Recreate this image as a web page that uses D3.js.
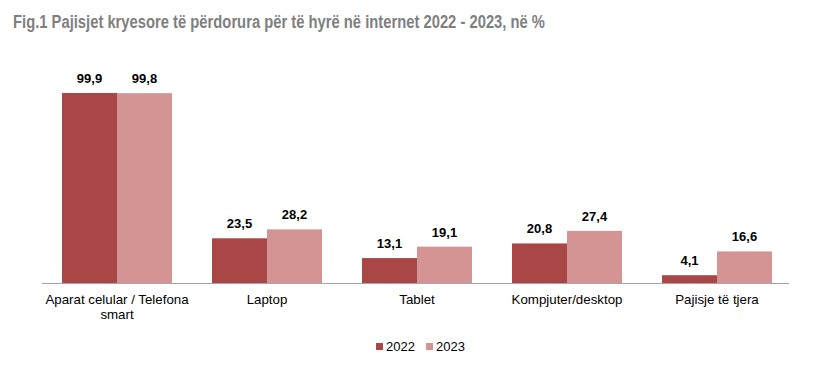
<!DOCTYPE html>
<html>
<head>
<meta charset="utf-8">
<script src="https://cdn.jsdelivr.net/npm/d3@7"></script>
<style>
  body { margin: 0; background: #fff; }
  svg { display: block; font-family: "Liberation Sans", Arial, sans-serif; }
</style>
</head>
<body>
<div id="chart"></div>
<script>
const categories = ["Aparat celular / Telefona smart", "Laptop", "Tablet", "Kompjuter/desktop", "Pajisje të tjera"];
const categoryLines = [["Aparat celular / Telefona", "smart"], ["Laptop"], ["Tablet"], ["Kompjuter/desktop"], ["Pajisje të tjera"]];
const years = ["2022", "2023"];
const values2022 = [99.9, 23.5, 13.1, 20.8, 4.1];
const values2023 = [99.8, 28.2, 19.1, 27.4, 16.6];
const title = "Fig.1 Pajisjet kryesore të përdorura për të hyrë në internet 2022 - 2023, në %";

const W = 816, H = 379;
const baseY = 283;
const colors = { "2022": "#a94646", "2023": "#d49494" };

const svg = d3.select("#chart").append("svg")
    .attr("width", W)
    .attr("height", H);

const x = d3.scaleBand()
    .domain(categories)
    .range([42, 792])
    .paddingInner(40 / 150)
    .paddingOuter(20 / 150);

const xs = d3.scaleBand()
    .domain(years)
    .range([0, x.bandwidth()]);

const y = d3.scaleLinear()
    .domain([0, 100])
    .range([baseY, baseY - 190.2]);

// Title
svg.append("text")
    .attr("x", 13)
    .attr("y", 28)
    .attr("textLength", 532)
    .attr("lengthAdjust", "spacingAndGlyphs")
    .style("font-size", "18px")
    .style("font-weight", "bold")
    .style("fill", "#7f7f7f")
    .text(title);

const rows = categories.map((c, i) => ({ cat: c, lines: categoryLines[i], vals: [values2022[i], values2023[i]] }));

const groups = svg.selectAll(".grp")
    .data(rows)
    .enter().append("g")
    .attr("class", "grp")
    .attr("transform", d => `translate(${x(d.cat)},0)`);

groups.selectAll("rect")
    .data(d => years.map((yr, j) => ({ yr, v: d.vals[j] })))
    .enter().append("rect")
    .attr("x", d => xs(d.yr))
    .attr("width", xs.bandwidth())
    .attr("y", d => y(d.v))
    .attr("height", d => baseY - y(d.v))
    .attr("fill", d => colors[d.yr]);

groups.selectAll(".val")
    .data(d => years.map((yr, j) => ({ yr, v: d.vals[j] })))
    .enter().append("text")
    .attr("class", "val")
    .attr("x", d => xs(d.yr) + xs.bandwidth() / 2)
    .attr("y", d => y(d.v) - 10)
    .attr("text-anchor", "middle")
    .style("font-size", "13px")
    .style("font-weight", "bold")
    .style("fill", "#000")
    .text(d => d.v.toFixed(1).replace(".", ","));

// Axis line
svg.append("line")
    .attr("x1", 42).attr("x2", 789)
    .attr("y1", baseY + 0.5).attr("y2", baseY + 0.5)
    .attr("stroke", "#a6a6a6")
    .attr("stroke-width", 1);

// Category labels
groups.each(function (d) {
    const t = d3.select(this).append("text")
        .attr("text-anchor", "middle")
        .style("font-size", "13.3px")
        .style("fill", "#000");
    d.lines.forEach((ln, k) => {
        t.append("tspan")
            .attr("x", x.bandwidth() / 2)
            .attr("y", 304 + k * 15)
            .text(ln);
    });
});

// Legend
const legend = svg.selectAll(".legend")
    .data(years)
    .enter().append("g")
    .attr("class", "legend")
    .attr("transform", (d, i) => `translate(${376 + i * 50}, 343)`);

legend.append("rect")
    .attr("width", 7)
    .attr("height", 7)
    .attr("fill", d => colors[d]);

legend.append("text")
    .attr("x", 10)
    .attr("y", 8)
    .style("font-size", "13px")
    .style("fill", "#000")
    .text(d => d);
</script>
</body>
</html>
